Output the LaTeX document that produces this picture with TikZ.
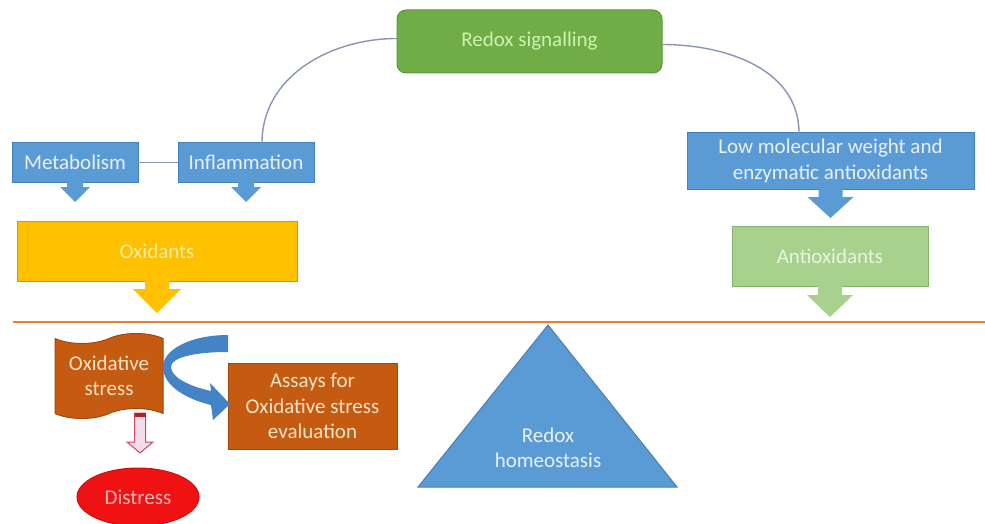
\documentclass[tikz,border=0pt]{standalone}
\usepackage{fontspec}
\setmainfont{Carlito}
\usepackage{tikz}
\usetikzlibrary{
  shapes.geometric, shapes.symbols,
  positioning, calc
}
\definecolor{boxblue}{RGB}{91,155,213}
\definecolor{edgeblue}{RGB}{70,128,185}
\definecolor{txtblue}{RGB}{232,240,250}
\definecolor{sigfill}{RGB}{112,173,71}
\definecolor{sigedge}{RGB}{92,150,56}
\definecolor{sigtext}{RGB}{205,242,175}
\definecolor{oxfill}{RGB}{255,192,0}
\definecolor{oxedge}{RGB}{205,155,10}
\definecolor{oxtext}{RGB}{255,236,165}
\definecolor{antifill}{RGB}{169,209,142}
\definecolor{antiedge}{RGB}{135,178,108}
\definecolor{antitext}{RGB}{232,244,224}
\definecolor{rust}{RGB}{197,90,17}
\definecolor{rustedge}{RGB}{165,72,12}
\definecolor{rusttext}{RGB}{255,226,200}
\definecolor{alarm}{RGB}{240,18,18}
\definecolor{alarmtext}{RGB}{255,185,185}
\definecolor{hollowedge}{RGB}{205,70,95}
\definecolor{hollowfill}{RGB}{242,222,232}
\definecolor{capred}{RGB}{185,25,45}
\definecolor{bendblue}{RGB}{68,132,198}
\definecolor{linkgray}{RGB}{138,148,182}
\definecolor{horizon}{RGB}{237,125,49}
\tikzset{
  basebox/.style={rectangle,inner sep=0pt,outer sep=0pt,align=center,line width=1pt,font=\fontsize{21}{25.5}\selectfont},
  bluebox/.style={basebox,fill=boxblue,draw=edgeblue,text=txtblue},
  sigbox/.style={basebox,rounded corners=9pt,fill=sigfill,draw=sigedge,text=sigtext},
  oxbox/.style={basebox,fill=oxfill,draw=oxedge,text=oxtext},
  antibox/.style={basebox,fill=antifill,draw=antiedge,text=antitext},
  rustbox/.style={basebox,fill=rust,draw=rustedge,text=rusttext},
  stressbox/.style={rustbox,tape,tape bend height=10pt},
  alarmnode/.style={basebox,ellipse,fill=alarm,draw=alarm!85!black,text=alarmtext},
  link/.style={line width=1.4pt,color=linkgray},
  horizonline/.style={line width=2pt,color=horizon},
  hollowarr/.style={line width=1pt,draw=hollowedge,fill=hollowfill},
  bendarr/.style={fill=bendblue}
}
% block arrow hanging under a box: node, style, stem half width, stem length, head half width, head length
\newcommand{\downtab}[6]{%
  \fill[#2] ($(#1.south)+(-#3,-0.5)$) -- ++(0,#4+0.5) -- ++(-#5+#3,0)
    -- ($(#1.south)+(0,#4+#6)$) -- ++(#5,-#6) -- ++(-#5+#3,0) -- ++(0,-#4-0.5) -- cycle;}

\begin{document}
\begin{tikzpicture}[x=1pt,y=-1pt]
  \useasboundingbox (0,0) rectangle (985,524);

  % upper half
  \node[sigbox,minimum width=265,minimum height=63] (sig) at (529.5,41.5) {Redox signalling};
  \node[bluebox,minimum width=126,minimum height=39] (met) at (75,162.5) {Metabolism};
  \node[bluebox,minimum width=136,minimum height=39] (infl) at (246,162.5) {Inflammation};
  \node[bluebox,minimum width=287,minimum height=56] (lmw) at (830.5,161) {Low molecular weight and\\enzymatic antioxidants};
  \node[oxbox,minimum width=280,minimum height=60] (ox) at (157,251) {Oxidants};
  \node[antibox,minimum width=196,minimum height=60] (anti) at (830,256) {Antioxidants};

  \draw[link] (met) -- (infl);
  \draw[link] ([xshift=16pt]infl.north) to[out=90,in=180] ([yshift=3pt]sig.west);
  \draw[link] ([yshift=-3pt]sig.east) to[out=0,in=90] ([xshift=-31.5pt]lmw.north);

  \downtab{met}{boxblue}{8}{5}{15}{15}
  \downtab{infl}{boxblue}{8}{5}{15}{15}
  \downtab{ox}{oxfill}{12}{8}{24}{24}
  \downtab{lmw}{boxblue}{12}{8}{23}{21}
  \downtab{anti}{antifill}{12}{9}{23}{22}

  \coordinate (hzL) at (13,322);
  \coordinate (hzR) at (985,322);
  \draw[horizonline] (hzL) -- (hzR);

  % lower half
  \node[stressbox,minimum width=108,minimum height=85] (stress) at (109,376) {Oxidative\\stress};
  \node[rustbox,minimum width=169,minimum height=86] (assay) at (312.5,406) {Assays for\\Oxidative stress\\evaluation};
  \node[alarmnode,minimum width=122,minimum height=58] (distress) at (138,497) {Distress};

  \fill[bendarr] (228,335) .. controls (190,335) and (162,350) .. (163,368)
    .. controls (164,386) and (186,399) .. (211,405) -- (213,420) -- (230,404)
    -- (210,383) -- (211,391) .. controls (192,387) and (171,378) .. (171,367)
    .. controls (171,357) and (196,352) .. (228,352) -- cycle;

  \coordinate (dsTop) at (140,413);
  \draw[hollowarr] ($(dsTop)+(-5.5,0)$) -- ++(0,29) -- ++(-7.5,0) -- ($(dsTop)+(0,40)$)
    -- ++(13,-11) -- ++(-7.5,0) -- ++(0,-29) -- cycle;
  \fill[capred] ($(dsTop)+(-5.5,0)$) rectangle ($(dsTop)+(5.5,4)$);

  \coordinate (apex) at (548,325);
  \coordinate (baseL) at (418,487);
  \coordinate (baseR) at (677,487);
  \filldraw[fill=boxblue,draw=edgeblue,line width=1pt] (apex) -- (baseL) -- (baseR) -- cycle;
  \node[basebox,text=txtblue] (homeo) at (548,448) {Redox\\homeostasis};
\end{tikzpicture}
\end{document}
